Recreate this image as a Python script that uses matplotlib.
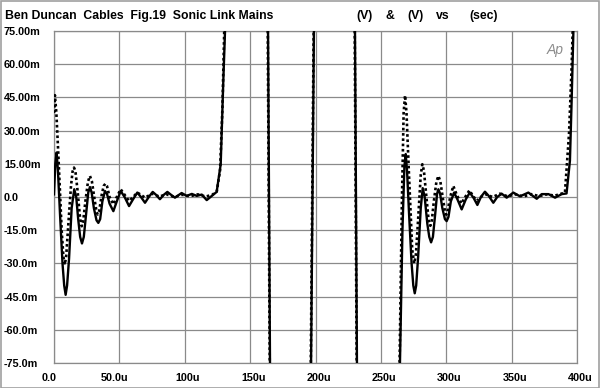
import matplotlib
matplotlib.use("Agg")
import matplotlib.pyplot as plt
from matplotlib.patches import Rectangle

# ---- data (time in microseconds, value in millivolts) ----
solid_t = [0.0, 1.0, 2.0, 3.0, 4.6, 6.5, 7.8, 8.9, 10.0, 11.5, 13.5, 15.5, 17.0,
           18.5, 20.0, 21.4, 22.8, 24.5, 26.2, 27.5, 28.8, 30.5, 32.5, 33.9, 35.3,
           37.0, 39.0, 40.5, 42.5, 45.4, 48.0, 51.0, 54.0, 57.4, 60.5, 63.7, 66.5,
           69.6, 72.5, 75.5, 78.0, 81.0, 84.0, 86.7, 89.5, 92.5, 97.6, 101.5, 105.4,
           109.2, 113.0, 116.8, 120.7, 124.4, 127.5, 129.5, 130.8, 132.0,
           163.0, 163.7, 165.2, 166.0,
           196.0, 196.6, 198.8, 199.5,
           229.5, 230.2, 231.7, 232.5,
           263.5, 264.6, 266.5, 268.0, 269.0, 270.0, 271.5, 273.5, 274.8, 275.9,
           277.0, 278.5, 280.5, 282.0, 283.5, 285.5, 287.0, 288.4, 289.8, 291.5,
           293.0, 294.0, 295.3, 297.0, 299.0, 300.3, 301.7, 303.5, 306.0, 308.5,
           311.8, 315.0, 318.0, 321.0, 323.8, 326.5, 329.6, 332.5, 336.0, 339.0,
           342.4, 346.2, 351.3, 356.4, 362.8, 369.2, 373.0, 378.2, 383.2, 388.3,
           392.0, 394.6, 395.9, 397.2, 400.0]
solid_v = [1.2, 15.0, 20.1, 12.0, -7.8, -30.0, -40.0, -44.2, -40.0, -28.0, -5.0, 3.5, 0.0,
           -10.0, -18.0, -21.0, -18.0, -8.0, 2.0, 4.5, 2.0, -5.0, -10.5, -11.7, -10.0,
           -2.0, 2.7, 1.5, -3.0, -6.4, -2.0, 2.7, 0.0, -4.1, -1.0, 2.0, 0.0,
           -2.6, 0.0, 2.3, 1.0, -1.0, 1.0, 2.3, 1.0, -0.3, 1.8, 0.5, 1.4,
           0.5, 1.1, -1.4, 0.5, 2.3, 14.8, 52.7, 75.0, 500.0,
           500.0, 75.0, -75.0, -500.0,
           -500.0, -75.0, 75.0, 500.0,
           500.0, 75.0, -75.0, -500.0,
           -500.0, -75.0, -15.0, 14.0, 19.4, 12.0, -7.0, -30.0, -40.0, -43.5,
           -40.0, -27.0, -5.0, 4.0, 0.0, -12.0, -18.0, -20.5, -18.0, -8.0,
           1.5, 3.5, 1.5, -5.0, -10.0, -10.9, -9.0, -2.0, 2.0, -1.0,
           -5.6, -1.0, 2.0, -0.5, -3.6, 0.0, 2.4, 0.5, -2.6, 0.0,
           1.5, -0.3, 2.0, 0.3, 2.0, -0.8, 1.3, 1.3, -0.3, 1.3,
           1.6, 16.4, 43.6, 74.0, 500.0]

dot_t = [0.0, 0.7, 1.8, 3.3, 5.9, 7.2, 8.2, 9.3, 11.0, 13.0, 14.2, 15.3, 16.4,
         18.0, 20.0, 21.2, 22.4, 24.0, 26.0, 27.5, 29.0, 31.0, 32.5, 33.4, 34.5,
         36.5, 38.0, 39.3, 40.5, 42.5, 45.4, 48.0, 51.0, 54.0, 57.4, 60.5, 63.7,
         66.5, 69.6, 75.0, 80.5, 86.0, 92.0, 98.0, 104.0, 110.0, 116.0, 121.0,
         124.5, 127.0, 128.8, 130.2, 131.5,
         162.8, 163.5, 165.0, 165.8,
         195.8, 196.4, 198.6, 199.3,
         229.3, 230.0, 231.5, 232.3,
         263.3, 264.3, 266.0, 267.4, 268.5, 269.6, 271.5, 274.0, 275.5, 276.8,
         278.5, 280.5, 281.7, 282.9, 284.5, 286.5, 287.8, 289.0, 290.5, 292.5,
         294.0, 295.5, 297.5, 299.0, 300.0, 301.0, 303.0, 305.4, 308.0, 311.5,
         314.5, 317.7, 320.5, 323.3, 326.5, 329.6, 335.5, 341.0, 347.0, 353.0,
         359.0, 365.0, 371.0, 377.0, 383.0, 390.8, 393.9, 395.9, 396.7, 400.0]
dot_v = [38.0, 46.0, 38.0, 19.4, -15.5, -27.0, -30.6, -27.0, -12.0, 5.0, 11.5, 13.3, 11.5,
         3.0, -10.0, -13.2, -10.5, -2.0, 7.0, 9.5, 7.0, -1.0, -6.5, -7.9, -6.5,
         1.0, 5.0, 6.0, 5.0, 0.0, -3.3, 0.0, 3.5, 1.0, -1.8, 0.0, 2.0,
         1.0, -0.3, 1.5, 0.2, 1.2, 0.0, 1.0, 0.3, 1.2, 0.2, 1.0,
         2.5, 12.0, 40.0, 75.0, 500.0,
         500.0, 75.0, -75.0, -500.0,
         -500.0, -75.0, 75.0, 500.0,
         500.0, 75.0, -75.0, -500.0,
         -500.0, -75.0, -5.0, 38.0, 45.9, 38.0, 10.0, -24.0, -30.0, -26.0,
         -10.0, 10.0, 14.8, 12.0, 2.0, -10.5, -13.0, -10.5, -2.0, 7.0,
         9.5, 7.0, -1.0, -6.5, -8.0, -6.5, 0.0, 5.0, 1.0, -3.0,
         0.0, 3.0, 0.5, -1.8, 0.0, 1.3, 0.0, 1.5, 0.3, 1.2,
         0.2, 1.3, 0.4, 1.2, 0.6, 2.0, 28.6, 58.8, 75.0, 500.0]

x_ticks = [0, 50, 100, 150, 200, 250, 300, 350, 400]
x_labels = ["0.0", "50.0u", "100u", "150u", "200u", "250u", "300u", "350u", "400u"]
y_ticks = [75, 60, 45, 30, 15, 0, -15, -30, -45, -60, -75]
y_labels = ["75.00m", "60.00m", "45.00m", "30.00m", "15.00m", "0.0",
            "-15.0m", "-30.0m", "-45.0m", "-60.0m", "-75.0m"]

title_left = "Ben Duncan  Cables  Fig.19  Sonic Link Mains"
title_right = [("(V)", 356), ("&", 386), ("(V)", 407), ("vs", 436), ("(sec)", 469)]

# ---- figure ----
plt.rcParams['font.family'] = ['Liberation Sans', 'DejaVu Sans']
W, H = 600, 388
fig = plt.figure(figsize=(W / 100, H / 100), dpi=100)
L, R, T, B = 54, 577, 31, 363
ax = fig.add_axes([L / W, 1 - B / H, (R - L) / W, (B - T) / H])

grid_c = "#8a8a8a"
ax.set_xlim(0, 400)
ax.set_ylim(-75, 75)
ax.set_xticks(x_ticks)
ax.set_yticks(y_ticks)
ax.grid(True, color=grid_c, linewidth=0.9)
ax.tick_params(length=0)
for s in ax.spines.values():
    s.set_color(grid_c)
    s.set_linewidth(0.9)

ax.plot(dot_t, dot_v, color="black", linewidth=1.9, linestyle=(0, (1, 1)),
        dash_capstyle="butt", zorder=3)
ax.plot(solid_t, solid_v, color="black", linewidth=1.7, zorder=4)

# tick labels
ax.set_xticklabels([])
ax.set_yticklabels([])
for xv, lab in zip(x_ticks, x_labels):
    xp = L + (R - L) * xv / 400.0
    off = -5 if lab in ("0.0", "50.0u") else 3
    fig.text((xp + off) / W, 1 - 378 / H, lab, ha="center", va="center",
             fontsize=7.8, fontweight="bold")
for yv, lab in zip(y_ticks, y_labels):
    yp = T + (B - T) * (75 - yv) / 150.0
    fig.text(4 / W, 1 - (yp + 1) / H, lab, ha="left", va="center",
             fontsize=7.8, fontweight="bold")

fig.text(5 / W, 1 - 16 / H, title_left, ha="left", va="center",
         fontsize=8.8, fontweight="bold")
for txt, xp in title_right:
    fig.text(xp / W, 1 - 16 / H, txt, ha="left", va="center",
             fontsize=8.8, fontweight="bold")

ax.text(0.975, 0.965, "Ap", transform=ax.transAxes, ha="right", va="top",
        fontsize=10, style="italic", color="#8c8c8c", fontweight="light")

fig.add_artist(Rectangle((0.5 / W, 0.5 / H), (W - 1.5) / W, (H - 1.5) / H,
                         transform=fig.transFigure, fill=False,
                         edgecolor="#a0a0a0", linewidth=1.2))

fig.savefig("out.png", dpi=100)
